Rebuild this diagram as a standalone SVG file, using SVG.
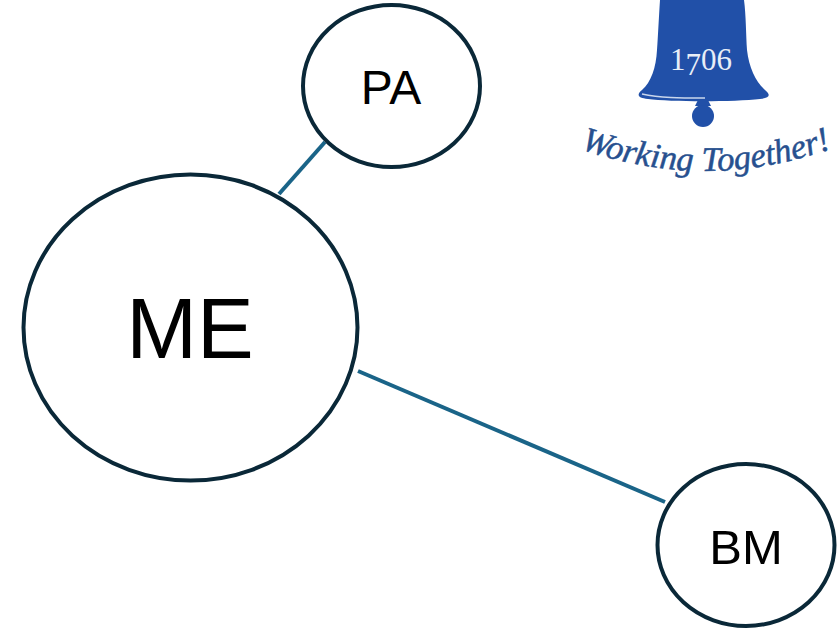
<svg xmlns="http://www.w3.org/2000/svg" width="838" height="628" viewBox="0 0 838 628">
<defs>
<style>
.n{fill:#fff;stroke:#0a2838;stroke-width:4}
.c{stroke:#1a6488;stroke-width:4;fill:none}
.t{font-family:"Liberation Sans",Arial,sans-serif;fill:#000;text-anchor:middle}
.b{fill:#2150a8}
.w{font-family:"Liberation Serif","Times New Roman",serif;font-style:italic;fill:#27508f;stroke:#27508f;stroke-width:.5;text-anchor:middle;font-size:34.500px}
</style>
<path id="arc" d="M576 147 Q704 195 836 147"/>
</defs>
<rect width="838" height="628" fill="#fff"/>
<g id="connectors">
<line class="c" x1="325" y1="142" x2="279" y2="194"/>
<line class="c" x1="358" y1="371" x2="665" y2="502"/>
</g>
<g id="node-ME">
<ellipse class="n" cx="190.500" cy="327.500" rx="167" ry="153"/>
<text class="t" x="190" y="358" font-size="85">ME</text>
</g>
<g id="node-PA">
<ellipse class="n" cx="391.500" cy="86" rx="88.500" ry="81"/>
<text class="t" x="391" y="104" font-size="48">PA</text>
</g>
<g id="node-BM">
<ellipse class="n" cx="746" cy="545" rx="88.500" ry="81"/>
<text class="t" x="746" y="564" font-size="49">BM</text>
</g>
<g id="logo">
<path class="b" d="M660 0 L744 0 C746 15 746 35 747 50 C749 68 756 82 765 90 C771 95 770 98 760 99 C735 102 670 102 648 99 C638 98 636 95 642 90 C651 82 656 68 657 50 C658 35 659 15 660 0 Z"/>
<path class="b" d="M698 100 L708 100 L711 106 L695 106 Z"/>
<circle class="b" cx="703" cy="116" r="11"/>
<path d="M642 94 C660 98 680 98 705 98" stroke="#c9d6ec" stroke-width="1.500" fill="none"/>
<text y="70" x="670" font-family="Liberation Serif,Times New Roman,serif" font-size="31" fill="#e8eef7" dy="0 5 -5 0">1706</text>
<text class="w"><textPath href="#arc" startOffset="50%">Working Together!</textPath></text>
</g>
</svg>
